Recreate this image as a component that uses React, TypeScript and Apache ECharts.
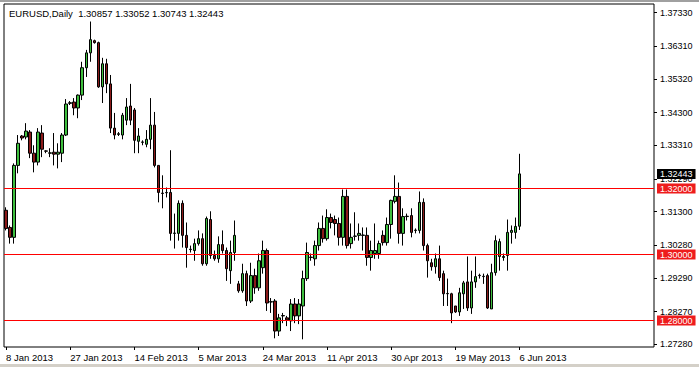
import React, { useEffect, useRef } from "react";
import * as echarts from "echarts";

const titleText = "EURUSD,Daily  1.30857 1.33052 1.30743 1.32443";
const xTickLabels = ["8 Jan 2013", "27 Jan 2013", "14 Feb 2013", "5 Mar 2013", "24 Mar 2013", "11 Apr 2013", "30 Apr 2013", "19 May 2013", "6 Jun 2013"];
const barsPerTick = 16;
const totalSlots = 162;

// [open, close, low, high]
const candles: number[][] = [
  [1.3134, 1.3079, 1.3073, 1.3143],
  [1.3082, 1.3052, 1.3033, 1.3088],
  [1.3052, 1.3270, 1.3033, 1.3276],
  [1.3270, 1.3337, 1.3246, 1.3362],
  [1.3359, 1.3353, 1.3346, 1.3362],
  [1.3356, 1.3374, 1.3349, 1.3398],
  [1.3371, 1.3307, 1.3292, 1.3377],
  [1.3307, 1.3280, 1.3249, 1.3331],
  [1.3280, 1.3371, 1.3270, 1.3383],
  [1.3368, 1.3319, 1.3295, 1.3392],
  [1.3314, 1.3313, 1.3307, 1.3316],
  [1.3307, 1.3308, 1.3295, 1.3322],
  [1.3310, 1.3304, 1.3270, 1.3368],
  [1.3304, 1.3310, 1.3261, 1.3337],
  [1.3307, 1.3362, 1.3280, 1.3368],
  [1.3362, 1.3456, 1.3359, 1.3471],
  [1.3458, 1.3460, 1.3453, 1.3465],
  [1.3462, 1.3444, 1.3422, 1.3474],
  [1.3444, 1.3483, 1.3413, 1.3485],
  [1.3483, 1.3566, 1.3468, 1.3584],
  [1.3566, 1.3611, 1.3538, 1.3620],
  [1.3611, 1.3651, 1.3584, 1.3706],
  [1.3648, 1.3642, 1.3639, 1.3651],
  [1.3642, 1.3508, 1.3505, 1.3645],
  [1.3508, 1.3578, 1.3459, 1.3596],
  [1.3578, 1.3517, 1.3489, 1.3593],
  [1.3517, 1.3383, 1.3368, 1.3544],
  [1.3383, 1.3362, 1.3349, 1.3429],
  [1.3364, 1.3366, 1.3359, 1.3371],
  [1.3362, 1.3422, 1.3349, 1.3429],
  [1.3407, 1.3447, 1.3392, 1.3474],
  [1.3450, 1.3407, 1.3392, 1.3517],
  [1.3438, 1.3346, 1.3307, 1.3444],
  [1.3343, 1.3359, 1.3307, 1.3383],
  [1.3340, 1.3341, 1.3331, 1.3346],
  [1.3334, 1.3349, 1.3325, 1.3377],
  [1.3349, 1.3392, 1.3319, 1.3474],
  [1.3392, 1.3270, 1.3264, 1.3432],
  [1.3270, 1.3188, 1.3158, 1.3270],
  [1.3186, 1.3185, 1.3140, 1.3240],
  [1.3187, 1.3188, 1.3173, 1.3203],
  [1.3188, 1.3064, 1.3042, 1.3316],
  [1.3064, 1.3065, 1.3018, 1.3124],
  [1.3064, 1.3155, 1.3042, 1.3164],
  [1.3155, 1.3058, 1.3021, 1.3164],
  [1.3058, 1.3021, 1.2960, 1.3097],
  [1.3015, 1.3016, 1.3006, 1.3027],
  [1.3012, 1.3033, 1.2981, 1.3048],
  [1.3033, 1.3048, 1.3027, 1.3073],
  [1.3048, 1.2972, 1.2966, 1.3064],
  [1.2972, 1.3109, 1.2966, 1.3115],
  [1.3106, 1.2997, 1.2987, 1.3131],
  [1.2997, 1.2987, 1.2981, 1.3012],
  [1.2987, 1.3030, 1.2975, 1.3055],
  [1.3030, 1.3012, 1.3003, 1.3073],
  [1.3012, 1.2957, 1.2920, 1.3021],
  [1.2951, 1.3006, 1.2911, 1.3042],
  [1.3006, 1.3058, 1.2981, 1.3103],
  [1.2911, 1.2890, 1.2884, 1.2920],
  [1.2890, 1.2942, 1.2884, 1.2972],
  [1.2942, 1.2859, 1.2844, 1.2951],
  [1.2859, 1.2936, 1.2853, 1.2975],
  [1.2936, 1.2899, 1.2881, 1.2957],
  [1.2899, 1.2981, 1.2890, 1.3003],
  [1.2960, 1.3012, 1.2942, 1.3042],
  [1.3012, 1.2853, 1.2829, 1.3018],
  [1.2856, 1.2857, 1.2823, 1.2868],
  [1.2859, 1.2768, 1.2746, 1.2865],
  [1.2768, 1.2808, 1.2753, 1.2820],
  [1.2814, 1.2815, 1.2792, 1.2823],
  [1.2808, 1.2802, 1.2783, 1.2814],
  [1.2799, 1.2850, 1.2768, 1.2865],
  [1.2850, 1.2814, 1.2792, 1.2868],
  [1.2814, 1.2850, 1.2789, 1.2865],
  [1.2844, 1.2927, 1.2743, 1.2951],
  [1.2927, 1.3006, 1.2920, 1.3036],
  [1.2991, 1.2992, 1.2981, 1.3003],
  [1.2987, 1.3027, 1.2966, 1.3042],
  [1.3027, 1.3079, 1.3012, 1.3097],
  [1.3079, 1.3048, 1.3036, 1.3118],
  [1.3048, 1.3112, 1.3042, 1.3137],
  [1.3112, 1.3097, 1.3079, 1.3124],
  [1.3106, 1.3094, 1.3058, 1.3118],
  [1.3094, 1.3052, 1.3027, 1.3112],
  [1.3052, 1.3176, 1.3027, 1.3197],
  [1.3176, 1.3027, 1.3018, 1.3197],
  [1.3033, 1.3052, 1.3018, 1.3094],
  [1.3055, 1.3056, 1.3042, 1.3128],
  [1.3058, 1.3064, 1.3042, 1.3094],
  [1.3058, 1.3059, 1.3012, 1.3082],
  [1.3058, 1.2991, 1.2966, 1.3082],
  [1.2991, 1.3012, 1.2951, 1.3042],
  [1.3003, 1.3012, 1.2987, 1.3094],
  [1.3003, 1.3033, 1.2987, 1.3042],
  [1.3058, 1.3036, 1.3027, 1.3073],
  [1.3036, 1.3091, 1.3027, 1.3112],
  [1.3091, 1.3164, 1.3048, 1.3166],
  [1.3161, 1.3176, 1.3155, 1.3240],
  [1.3176, 1.3064, 1.3033, 1.3218],
  [1.3064, 1.3115, 1.3027, 1.3140],
  [1.3115, 1.3116, 1.3103, 1.3124],
  [1.3118, 1.3067, 1.3052, 1.3140],
  [1.3073, 1.3074, 1.3064, 1.3079],
  [1.3073, 1.3158, 1.3064, 1.3191],
  [1.3158, 1.3027, 1.3012, 1.3170],
  [1.3027, 1.2981, 1.2930, 1.3033],
  [1.2975, 1.2963, 1.2951, 1.2987],
  [1.2963, 1.2987, 1.2942, 1.3003],
  [1.2987, 1.2930, 1.2920, 1.3027],
  [1.2942, 1.2881, 1.2844, 1.2951],
  [1.2881, 1.2882, 1.2844, 1.2927],
  [1.2881, 1.2823, 1.2792, 1.2884],
  [1.2844, 1.2826, 1.2823, 1.2844],
  [1.2826, 1.2884, 1.2814, 1.2899],
  [1.2881, 1.2914, 1.2835, 1.2920],
  [1.2917, 1.2838, 1.2829, 1.2994],
  [1.2838, 1.2917, 1.2820, 1.2951],
  [1.2917, 1.2933, 1.2899, 1.2994],
  [1.2936, 1.2937, 1.2927, 1.2942],
  [1.2933, 1.2934, 1.2911, 1.2942],
  [1.2936, 1.2838, 1.2835, 1.2942],
  [1.2835, 1.2945, 1.2835, 1.2972],
  [1.2945, 1.3042, 1.2936, 1.3058],
  [1.2994, 1.3039, 1.2951, 1.3048],
  [1.2991, 1.2994, 1.2981, 1.3003],
  [1.2997, 1.3067, 1.2951, 1.3106],
  [1.3067, 1.3073, 1.3033, 1.3088],
  [1.3067, 1.3085, 1.3048, 1.3112],
  [1.30857, 1.32443, 1.30743, 1.33052],
];

const yTickValues = [1.2728, 1.2827, 1.2929, 1.3028, 1.313, 1.3229, 1.3331, 1.343, 1.3532, 1.3631, 1.3733];
const levelLines = [1.32, 1.3, 1.28];
const lastPrice = 1.32443;
const yMin = 1.27197;
const yMax = 1.375909;

const FONT = "Liberation Sans, Arial, sans-serif";
const LINE_RED = "#ff0000";
const BOX_RED = "#ee1c1c";

export default function App() {
  const ref = useRef<HTMLDivElement>(null);
  useEffect(() => {
    document.body.style.margin = "0";
    const chart = echarts.init(ref.current!, null, { renderer: "svg" });
    const categories = Array.from({ length: totalSlots }, (_, i) => "b" + i);
    const showTick = (i: number) => i % barsPerTick === 0 && i / barsPerTick < xTickLabels.length;
    const boxLabel = (v: number, bg: string) => ({
      show: true,
      position: "end",
      distance: 3,
      formatter: () => v.toFixed(5),
      color: "#fff",
      backgroundColor: bg,
      padding: [0, 3, 0, 3],
      lineHeight: 10,
      fontSize: 9,
      fontFamily: FONT,
    });
    const levelSeries = (v: number, stroke: string, bg: string, width: number) => ({
      type: "line",
      data: [],
      silent: true,
      z: 4,
      markLine: {
        silent: true,
        symbol: ["none", "none"],
        precision: 5,
        animation: false,
        lineStyle: { color: stroke, width, type: "solid", opacity: 1 },
        emphasis: { disabled: true },
        label: boxLabel(v, bg),
        data: [{ yAxis: v }],
      },
    });
    chart.setOption({
      animation: false,
      backgroundColor: "#ffffff",
      textStyle: { fontFamily: FONT },
      grid: { left: 4, top: 4, right: 45, bottom: 20, show: true, borderColor: "#000", borderWidth: 1, backgroundColor: "#fff" },
      graphic: [
        { type: "rect", shape: { x: 0, y: 0, width: 699, height: 2 }, style: { fill: "#a0a0a0" } },
        { type: "rect", shape: { x: 0, y: 364, width: 699, height: 3 }, style: { fill: "#d4d0c8" } },
        { type: "text", left: 9, top: 8, style: { text: titleText, fontSize: 9.5, fill: "#000", fontFamily: FONT } },
      ],
      xAxis: {
        type: "category",
        data: categories,
        boundaryGap: true,
        axisLine: { show: false },
        axisTick: { show: true, alignWithLabel: true, interval: (i: number) => showTick(i), length: 3, lineStyle: { color: "#000" } },
        axisLabel: {
          interval: (i: number) => showTick(i),
          formatter: (_v: string, i: number) => (showTick(i) ? xTickLabels[i / barsPerTick] : ""),
          align: "left",
          margin: 5,
          fontSize: 9.5,
          color: "#000",
          fontFamily: FONT,
        },
        splitLine: { show: false },
      },
      yAxis: {
        type: "value",
        position: "right",
        min: yMin,
        max: yMax,
        scale: true,
        axisLine: { show: false },
        splitLine: { show: false },
        axisTick: { show: true, customValues: yTickValues, length: 3, lineStyle: { color: "#000" } },
        axisLabel: {
          customValues: yTickValues,
          formatter: (v: number) => v.toFixed(5),
          margin: 6,
          fontSize: 9,
          color: "#000",
          fontFamily: FONT,
        },
      },
      series: [
        {
          type: "candlestick",
          data: candles,
          barWidth: 3,
          z: 2,
          itemStyle: {
            color: "#3fbf3f",
            color0: "#8b1a1a",
            borderColor: "#000",
            borderColor0: "#000",
            borderColorDoji: "#000",
            borderWidth: 1,
          },
        },
        ...levelLines.map((v) => levelSeries(v, LINE_RED, BOX_RED, 1)),
        levelSeries(lastPrice, "rgba(0,0,0,0)", "#000", 0),
      ],
    });
    return () => chart.dispose();
  }, []);
  return <div ref={ref} style={{ position: "fixed", left: 0, top: 0, width: 699, height: 367 }} />;
}
